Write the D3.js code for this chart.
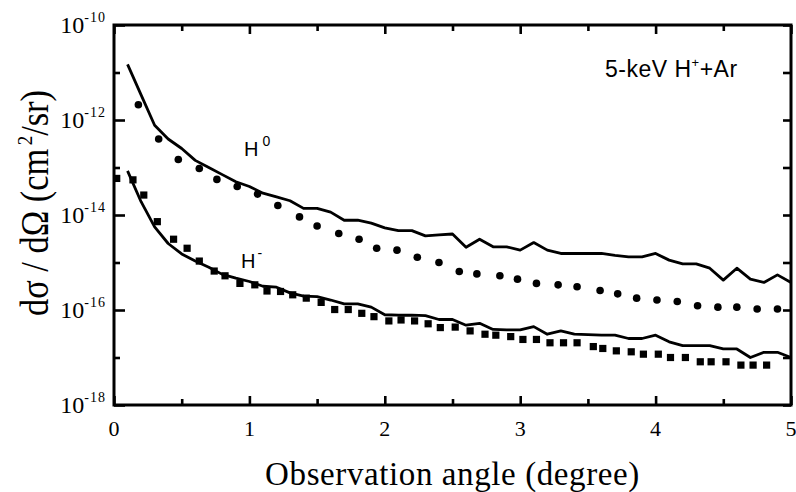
<!DOCTYPE html>
<html>
<head>
<meta charset="utf-8">
<script src="https://cdn.jsdelivr.net/npm/d3@7"></script>
<style>
    body { margin: 0; background: #fff; }
</style>
</head>
<body>
<script>
// angles (degree) used by both calculated curves
var lineAngles = [0.1, 0.2, 0.3, 0.4, 0.5, 0.6, 0.7, 0.8, 0.9, 1.0,
    1.1, 1.2, 1.3, 1.4, 1.5, 1.6, 1.7, 1.8, 1.9, 2.0,
    2.1, 2.2, 2.3, 2.4, 2.5, 2.6, 2.7, 2.8, 2.9, 3.0,
    3.1, 3.2, 3.3, 3.4, 3.5, 3.6, 3.7, 3.8, 3.9, 4.0,
    4.1, 4.2, 4.3, 4.4, 4.5, 4.6, 4.7, 4.8, 4.9, 5.0];

// log10 of d(sigma)/d(Omega), cm^2/sr
var h0LineLog = [-10.83, -11.47, -12.11, -12.40, -12.60, -12.85, -13.00, -13.15, -13.30, -13.40,
    -13.54, -13.62, -13.70, -13.86, -13.86, -13.94, -14.11, -14.11, -14.17, -14.27,
    -14.33, -14.33, -14.44, -14.42, -14.40, -14.68, -14.51, -14.67, -14.67, -14.74,
    -14.58, -14.74, -14.81, -14.81, -14.81, -14.81, -14.85, -14.88, -14.88, -14.81,
    -14.95, -15.03, -15.03, -15.12, -15.37, -15.12, -15.35, -15.42, -15.26, -15.42];

var hmLineLog = [-13.07, -13.72, -14.25, -14.60, -14.82, -14.97, -15.10, -15.25, -15.33, -15.40,
    -15.50, -15.52, -15.64, -15.71, -15.72, -15.79, -15.87, -15.87, -15.94, -16.10,
    -16.11, -16.11, -16.12, -16.20, -16.20, -16.32, -16.28, -16.41, -16.42, -16.42,
    -16.35, -16.51, -16.44, -16.51, -16.52, -16.53, -16.53, -16.60, -16.60, -16.53,
    -16.67, -16.75, -16.75, -16.75, -16.82, -16.82, -17.00, -16.89, -16.89, -17.00];

// measured H0 (dots)
var h0Angles = [0.18, 0.33, 0.475, 0.63, 0.76, 0.91, 1.06, 1.21, 1.37, 1.50,
    1.66, 1.81, 1.94, 2.09, 2.24, 2.40, 2.55, 2.68, 2.85, 2.98,
    3.12, 3.28, 3.42, 3.59, 3.72, 3.86, 4.01, 4.16, 4.31, 4.46,
    4.60, 4.75, 4.90];
var h0Log = [-11.68, -12.40, -12.83, -13.02, -13.25, -13.40, -13.56, -13.80, -14.04, -14.23,
    -14.39, -14.51, -14.70, -14.74, -14.89, -15.00, -15.19, -15.24, -15.28, -15.35,
    -15.44, -15.47, -15.51, -15.59, -15.66, -15.75, -15.79, -15.82, -15.91, -15.94,
    -15.94, -15.98, -15.98];

// measured H- (squares)
var hmAngles = [0.02, 0.14, 0.22, 0.32, 0.44, 0.54, 0.63, 0.74, 0.82, 0.93,
    1.04, 1.13, 1.23, 1.32, 1.42, 1.53, 1.63, 1.73, 1.83, 1.92,
    2.03, 2.12, 2.22, 2.32, 2.41, 2.52, 2.63, 2.74, 2.82, 2.93,
    3.02, 3.12, 3.22, 3.32, 3.42, 3.54, 3.61, 3.71, 3.82, 3.91,
    4.02, 4.11, 4.22, 4.33, 4.41, 4.52, 4.63, 4.72, 4.82];
var hmLog = [-13.23, -13.26, -13.58, -14.14, -14.51, -14.70, -14.97, -15.18, -15.28, -15.44,
    -15.47, -15.60, -15.61, -15.68, -15.75, -15.84, -15.99, -15.99, -16.07, -16.14,
    -16.23, -16.21, -16.23, -16.29, -16.37, -16.36, -16.44, -16.51, -16.53, -16.56,
    -16.62, -16.62, -16.69, -16.69, -16.69, -16.77, -16.81, -16.86, -16.88, -16.93,
    -16.93, -17.00, -17.00, -17.09, -17.09, -17.09, -17.16, -17.16, -17.16];

// axis ticks
var xMajor = [0, 1, 2, 3, 4, 5];
var xMinor = [0.5, 1.5, 2.5, 3.5, 4.5];
var yMajorExp = [-18, -16, -14, -12, -10];
var yMinorExp = [-17, -15, -13, -11];

var serif = "'Liberation Serif', 'Times New Roman', serif";
var sans = "'Liberation Sans', Arial, sans-serif";

function zip(xs, logs) {
    return xs.map(function (x, i) { return { x: x, y: Math.pow(10, logs[i]) }; });
}

function pow10(e) { return Math.pow(10, e); }

createVisualization();

function createVisualization() {

    var h0Line = zip(lineAngles, h0LineLog);
    var hmLine = zip(lineAngles, hmLineLog);
    var h0Pts = zip(h0Angles, h0Log);
    var hmPts = zip(hmAngles, hmLog);

    // Width and height
    var w = 796;
    var h = 492;
    var plotL = 114, plotR = 791, plotT = 25, plotB = 405;

    var xScale = d3.scaleLinear()
        .domain([0, 5])
        .range([plotL, plotR]);

    var yScale = d3.scaleLog()
        .domain([1e-18, 1e-10])
        .range([plotB, plotT]);

    var svg = d3.select("body")
        .append("svg")
        .attr("width", w)
        .attr("height", h);

    // ticks, all pointing inward
    function addAxis(axis, tr, vals, size) {
        var g = svg.append("g")
            .attr("transform", tr)
            .call(axis.tickValues(vals).tickSize(size).tickSizeOuter(0).tickFormat(""));
        g.select(".domain").remove();
        g.selectAll(".tick line").attr("stroke", "#000").attr("stroke-width", 2.6);
    }

    addAxis(d3.axisBottom(xScale), "translate(0," + plotB + ")", xMajor, -9);
    addAxis(d3.axisBottom(xScale), "translate(0," + plotB + ")", xMinor, -6);
    addAxis(d3.axisTop(xScale), "translate(0," + plotT + ")", xMajor, -9);
    addAxis(d3.axisTop(xScale), "translate(0," + plotT + ")", xMinor, -6);
    addAxis(d3.axisLeft(yScale), "translate(" + plotL + ",0)", yMajorExp.map(pow10), -11);
    addAxis(d3.axisLeft(yScale), "translate(" + plotL + ",0)", yMinorExp.map(pow10), -6);
    addAxis(d3.axisRight(yScale), "translate(" + plotR + ",0)", yMajorExp.map(pow10), -8);
    addAxis(d3.axisRight(yScale), "translate(" + plotR + ",0)", yMinorExp.map(pow10), -8);

    // frame
    svg.append("rect")
        .attr("x", plotL)
        .attr("y", plotT)
        .attr("width", plotR - plotL)
        .attr("height", plotB - plotT)
        .attr("fill", "none")
        .attr("stroke", "#000")
        .attr("stroke-width", 3);

    // calculated curves
    var line = d3.line()
        .x(function (d) { return xScale(d.x); })
        .y(function (d) { return yScale(d.y); });

    [h0Line, hmLine].forEach(function (data) {
        svg.append("path")
            .datum(data)
            .attr("fill", "none")
            .attr("stroke", "#000")
            .attr("stroke-width", 2.8)
            .attr("stroke-linejoin", "round")
            .attr("d", line);
    });

    // measured points
    svg.selectAll("circle.h0")
        .data(h0Pts)
        .enter()
        .append("circle")
        .attr("class", "h0")
        .attr("cx", function (d) { return xScale(d.x); })
        .attr("cy", function (d) { return yScale(d.y); })
        .attr("r", 3.8)
        .attr("fill", "#000");

    svg.selectAll("rect.hm")
        .data(hmPts)
        .enter()
        .append("rect")
        .attr("class", "hm")
        .attr("x", function (d) { return xScale(d.x) - 3.6; })
        .attr("y", function (d) { return yScale(d.y) - 3.6; })
        .attr("width", 7.2)
        .attr("height", 7.2)
        .attr("fill", "#000");

    // tick labels
    svg.selectAll("text.xlab")
        .data(xMajor)
        .enter()
        .append("text")
        .attr("class", "xlab")
        .attr("x", function (d) { return xScale(d); })
        .attr("y", 436)
        .attr("text-anchor", "middle")
        .attr("font-family", serif)
        .attr("font-size", 22)
        .text(function (d) { return d; });

    var ylab = svg.selectAll("text.ylab")
        .data(yMajorExp)
        .enter()
        .append("text")
        .attr("class", "ylab")
        .attr("x", 106)
        .attr("y", function (d) { return yScale(pow10(d)) + 8; })
        .attr("text-anchor", "end")
        .attr("font-family", serif)
        .attr("font-size", 24);
    ylab.append("tspan").text("10");
    ylab.append("tspan")
        .attr("dy", -11)
        .attr("font-size", 14)
        .attr("letter-spacing", 1)
        .text(function (d) { return d; });

    // axis titles
    svg.append("text")
        .attr("x", (plotL + plotR) / 2)
        .attr("y", 485)
        .attr("text-anchor", "middle")
        .attr("font-family", serif)
        .attr("font-size", 33)
        .attr("letter-spacing", 0.6)
        .text("Observation angle (degree)");

    var yt = svg.append("text")
        .attr("transform", "translate(48,203) rotate(-90) scale(0.86,1)")
        .attr("text-anchor", "middle")
        .attr("font-family", serif)
        .attr("font-size", 40);
    yt.append("tspan").text("d\u03c3 / d\u03a9  (cm");
    yt.append("tspan").attr("dy", -16).attr("dx", 4).attr("font-size", 22).text("2");
    yt.append("tspan").attr("dy", 16).text("/sr)");

    // annotations
    var t0 = svg.append("text")
        .attr("x", 244)
        .attr("y", 156)
        .attr("font-family", sans)
        .attr("font-size", 20);
    t0.append("tspan").text("H");
    t0.append("tspan").attr("dx", 4).attr("dy", -10).attr("font-size", 14).text("0");

    var tm = svg.append("text")
        .attr("x", 241)
        .attr("y", 268)
        .attr("font-family", sans)
        .attr("font-size", 20);
    tm.append("tspan").text("H");
    tm.append("tspan").attr("dx", 2).attr("dy", -10).attr("font-size", 14).text("-");

    var tt = svg.append("text")
        .attr("x", 605)
        .attr("y", 77)
        .attr("font-family", sans)
        .attr("font-size", 23)
        .attr("letter-spacing", 0.5);
    tt.append("tspan").text("5-keV H");
    tt.append("tspan").attr("dy", -10).attr("font-size", 13).text("+");
    tt.append("tspan").attr("dy", 10).text("+Ar");
}
</script>
</body>
</html>
